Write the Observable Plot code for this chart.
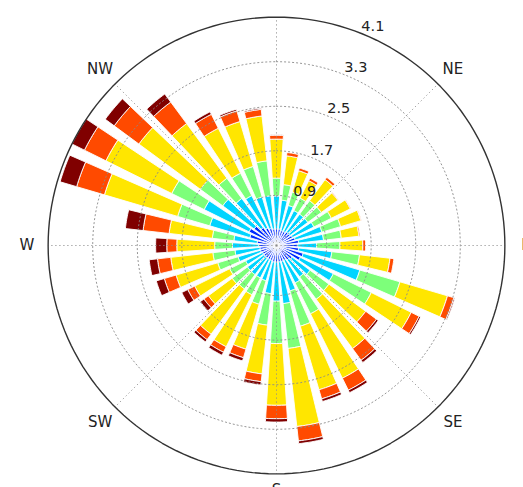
<!DOCTYPE html>
<html><head><meta charset="utf-8">
<script src="https://cdn.jsdelivr.net/npm/d3@7"></script>
<script src="https://cdn.jsdelivr.net/npm/@observablehq/plot@0.6"></script>
<style>body{margin:0;background:#fff}</style>
</head><body><div id="chart"></div>
<script>
// ---- data ----
const directions = [0,10,20,30,40,50,60,70,80,90,100,110,120,130,140,150,160,170,180,190,200,210,220,230,240,250,260,270,280,290,300,310,320,330,340,350];
const binNames = ["[0 : 1)","[1 : 2)","[2 : 3)","[3 : 4)","[4 : 5)","[5 : 6)","[6 : inf)"];
const binColors = ["#000080","#002bff","#00d4ff","#7dff7a","#ffe600","#ff4a00","#800000"];
const bin0 = [0.08,0.08,0.08,0.08,0.08,0.08,0.08,0.08,0.08,0.08,0.08,0.08,0.08,0.08,0.08,0.08,0.08,0.08,0.08,0.08,0.08,0.08,0.08,0.08,0.08,0.08,0.08,0.08,0.08,0.08,0.08,0.08,0.08,0.08,0.08,0.08];
const bin1 = [0.22,0.22,0.20,0.20,0.22,0.22,0.24,0.27,0.32,0.30,0.32,0.42,0.40,0.27,0.24,0.22,0.22,0.22,0.22,0.22,0.20,0.20,0.20,0.20,0.20,0.22,0.22,0.24,0.27,0.42,0.47,0.42,0.32,0.27,0.24,0.22];
const bin2 = [0.59,0.52,0.47,0.42,0.40,0.40,0.43,0.50,0.45,0.34,0.60,1.06,0.66,0.40,0.38,0.45,0.55,0.75,0.70,0.57,0.38,0.37,0.37,0.37,0.34,0.42,0.45,0.47,0.42,0.75,0.90,0.70,0.65,0.65,0.59,0.60];
const bin3 = [0.32,0.28,0.25,0.25,0.30,0.30,0.35,0.35,0.32,0.42,0.50,0.75,0.76,0.42,0.50,0.62,0.66,0.81,0.76,0.57,0.44,0.34,0.32,0.34,0.32,0.38,0.40,0.32,0.39,0.60,0.65,0.50,0.45,0.45,0.57,0.63];
const bin4 = [0.70,0.52,0.40,0.35,0.47,0.37,0.38,0.38,0.32,0.41,0.55,0.89,0.80,0.82,1.10,1.29,1.19,1.41,1.11,0.88,0.84,1.04,1.01,0.53,0.70,0.78,0.76,0.68,0.78,1.37,1.32,1.37,1.22,0.90,0.84,0.81];
const bin5 = [0.07,0.06,0.05,0.05,0.05,0.01,0.01,0.01,0.02,0.05,0.07,0.12,0.16,0.24,0.26,0.24,0.17,0.26,0.24,0.14,0.16,0.11,0.12,0.10,0.14,0.22,0.24,0.18,0.47,0.52,0.43,0.55,0.48,0.28,0.20,0.12];
const bin6 = [0.01,0,0,0,0,0,0,0,0,0,0,0.02,0.03,0.04,0.05,0.05,0.05,0.05,0.06,0.06,0.06,0.06,0.05,0.08,0.12,0.15,0.15,0.20,0.32,0.31,0.25,0.20,0.18,0.05,0.03,0.02];
const radialTicks = [0.9, 1.7, 2.5, 3.3, 4.1];
const compassLabels = ["N","NE","E","SE","S","SW","W","NW"];
const compassAngles = [0,45,90,135,180,225,270,315];

// ---- layout ----
const W = 523, H = 487, CX = 276, CY = 245, K = 55.7; // px per unit
const rmax = 4.1;
const barWidth = 7.2; // degrees of the 10° sector
const series = [bin0, bin1, bin2, bin3, bin4, bin5, bin6];
const rad = d => d * Math.PI / 180;
const px = (r, a) => r * Math.sin(rad(a));
const py = (r, a) => r * Math.cos(rad(a));
const labelR = 4.48, labelShift = 5 / K; // N and S labels sit a little higher, as in the original

// wedge polygons from the stacked values
const wedges = [];
directions.forEach((d, i) => {
  let base = 0;
  series.forEach((s, b) => {
    const v = s[i];
    const r0 = Math.min(base, rmax), r1 = Math.min(base + v, rmax);
    base += v;
    if (v <= 0 || r1 <= r0) return;
    const id = i + "-" + b;
    const steps = 8, a0 = d - barWidth / 2, a1 = d + barWidth / 2;
    const pts = [];
    for (let t = 0; t <= steps; t++) { const a = a0 + (a1 - a0) * t / steps; pts.push([r1, a]); }
    for (let t = steps; t >= 0; t--) { const a = a0 + (a1 - a0) * t / steps; pts.push([r0, a]); }
    pts.push(pts[0]);
    pts.forEach(([r, a], j) => wedges.push({id, bin: b, order: j, x: px(r, a), y: py(r, a)}));
  });
});

const ringPts = [];
radialTicks.forEach(v => { for (let a = 0; a <= 360; a += 2) ringPts.push({ring: v, x: px(v, a), y: py(v, a)}); });

const marks = [];
binColors.forEach((c, b) => {
  marks.push(Plot.line(wedges.filter(w => w.bin === b), {x: "x", y: "y", z: "id", fill: c, stroke: "white", strokeWidth: 0.9, curve: "linear"}));
});
marks.push(Plot.line(ringPts.filter(p => p.ring < rmax), {x: "x", y: "y", z: "ring", stroke: "#8a8a8a", strokeWidth: 0.9, strokeDasharray: "1.2,2.8"}));
marks.push(Plot.link(compassAngles, {x1: 0, y1: 0, x2: a => px(rmax, a), y2: a => py(rmax, a), stroke: "#8a8a8a", strokeWidth: 0.9, strokeDasharray: "1.2,2.8"}));
marks.push(Plot.line(ringPts.filter(p => p.ring === rmax), {x: "x", y: "y", stroke: "#333", strokeWidth: 1.4}));
marks.push(Plot.text(radialTicks, {x: v => px(v, 22.5), y: v => py(v, 22.5), text: v => v.toFixed(1), dx: 9, dy: -8, fontSize: 14.5, fill: "#222"}));
marks.push(Plot.text(compassLabels, {
  x: (t, i) => px(labelR, compassAngles[i]),
  y: (t, i) => py(labelR, compassAngles[i]) + (compassAngles[i] === 0 || compassAngles[i] === 180 ? labelShift : 0),
  text: t => t, fontSize: 15, fill: "#222"}));

const chart = Plot.plot({
  width: W, height: H, margin: 0,
  x: {domain: [-CX / K, (W - CX) / K], axis: null},
  y: {domain: [-(H - CY) / K, CY / K], axis: null},
  style: {background: "white", fontFamily: "DejaVu Sans, sans-serif", overflow: "hidden"},
  marks
});
document.getElementById("chart").appendChild(chart);
</script>
</body></html>
